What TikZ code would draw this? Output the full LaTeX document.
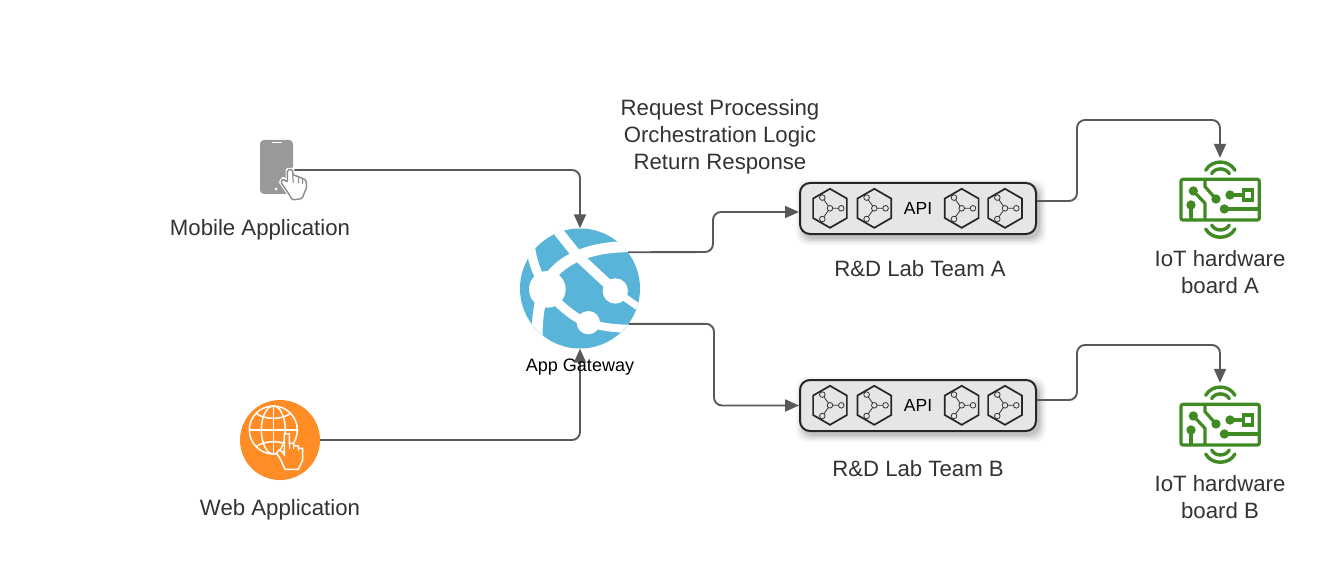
\documentclass[tikz,border=0pt]{standalone}
\usepackage{fontspec}
\setmainfont{Liberation Sans}
\usetikzlibrary{arrows.meta}
\definecolor{linegray}{HTML}{595959}
\definecolor{txt}{HTML}{333333}
\definecolor{azure}{HTML}{59B4D9}
\definecolor{orng}{HTML}{FF8C24}
\definecolor{phonegray}{HTML}{999999}
\definecolor{iotgreen}{HTML}{3F8A23}
\definecolor{boxfill}{HTML}{E6E6E6}
\tikzset{
  zoomgrid/.style={x=.3333pt,y=-.3333pt},
  conn/.style={draw=linegray,line width=1.9pt,rounded corners=8pt,-{Triangle[length=14pt,width=12pt]}},
  label/.style={text=txt,font=\fontsize{22.2}{27}\selectfont,align=center,inner sep=0pt},
  apibox/.style={draw=black!85,line width=2pt,fill=boxfill,rounded corners=10pt,minimum width=236pt,minimum height=51pt,inner sep=0pt,text=black,font=\fontsize{17.5}{20}\selectfont},
  shadowbox/.style={fill=black,rounded corners=11pt,draw=none},
  pics/hexnet/.style={code={
    \draw[line width=1.7pt,black!85] (90:19.5)--(30:19.5)--(-30:19.5)--(-90:19.5)--(-150:19.5)--(150:19.5)--cycle;
    \draw[line width=.8pt,black!80] (0,0)--(11.3,0) (0,0)--(-7.7,10.7) (0,0)--(-7.7,-10.7);
    \foreach \p in {(0,0),(11.3,0),(-7.7,10.7),(-7.7,-10.7)}
      \draw[line width=.8pt,black!80,fill=boxfill] \p circle (2.8);
  }},
  pics/iot/.style={code={\begin{scope}[zoomgrid,iotgreen]
    \draw[line width=3.2pt,rounded corners=2pt] (33,103) rectangle (268,225);
    \draw[line width=3.2pt] (105,105)--(105,125)--(138,162);
    \draw[line width=3.2pt] (70,138)--(105,175)--(105,225);
    \draw[line width=3.2pt] (63,180)--(63,225);
    \draw[line width=3.2pt] (180,150)--(220,150);
    \draw[line width=3.2pt] (220,135) rectangle (247,165);
    \draw[line width=3.2pt] (163,192)--(268,192);
    \foreach \p in {(138,162),(70,138),(63,180),(180,150),(163,192)}
      \fill \p circle (14);
    \draw[line width=3.4pt,line cap=round] (107,76) .. controls (125,43) and (177,43) .. (195,76);
    \draw[line width=3.4pt,line cap=round] (125,86) .. controls (135,67) and (167,67) .. (178,86);
    \draw[line width=3.4pt,line cap=round] (107,252) .. controls (125,285) and (177,285) .. (195,252);
    \draw[line width=3.4pt,line cap=round] (125,240) .. controls (135,260) and (167,260) .. (178,240);
  \end{scope}}}
}
\begin{document}
\begin{tikzpicture}[x=1pt,y=-1pt]
\useasboundingbox (0,0) rectangle (1330,580);
\fill[white] (0,0) rectangle (1330,580);

% shadows of the API boxes
\foreach \yy in {208.5,405.5}{
  \foreach \g/\o in {7/.035,5/.05,3/.07,1/.09}
    \fill[shadowbox,opacity=\o] (800+3-\g,\yy-25.5+4-\g) rectangle (1036+3+\g,\yy+25.5+4+\g);
}

% nodes
\node[rectangle,fill=phonegray,rounded corners=4pt,minimum width=33pt,minimum height=54pt,inner sep=0pt] (phone) at (276.5,167) {};
\node[circle,fill=orng,minimum size=80pt,inner sep=0pt] (web) at (280,440) {};
\node[circle,fill=azure,minimum size=120pt,inner sep=0pt] (gw) at (580,288.5) {};
\node[apibox] (boxa) at (918,208.5) {API};
\node[apibox] (boxb) at (918,405.5) {API};
\node[minimum width=80pt,minimum height=84pt,inner sep=0pt] (iota) at (1220,200) {};
\node[minimum width=80pt,minimum height=84pt,inner sep=0pt] (iotb) at (1220,425) {};

% connectors
\draw[conn] ([yshift=-3pt]phone.east) -- (580,170) -- (gw.north);
\draw[conn] (web.east) -- (580,440) -- (gw.south);
\draw[conn] (gw.37.47) -- (713,252) -- (713,212) -- ([yshift=-3.5pt]boxa.west);
\draw[conn] (gw.-36) -- (714,323.8) -- (714,405.5) -- (boxb.west);
\draw[conn] ([yshift=7.5pt]boxa.east) -- (1077,201) -- (1077,120) -- (1220,120) -- (iota.north);
\draw[conn] ([yshift=5.5pt]boxb.east) -- (1077,400) -- (1077,345) -- (1220,345) -- (iotb.north);

% phone details
\draw[white,line width=1.2pt] (271.5,142.5) -- (281.5,142.5);
\fill[white] (276,189) circle (1.5);
\begin{scope}[shift={(230,130)},zoomgrid]
  \draw[white,line width=3.5pt,fill=white,line join=round]
    (172,120) -- (172,158) -- (160,146) -- (152,156) -- (178,194) -- (187,210) -- (216,206) -- (230,172) -- (228,150) -- (205,140) -- (188,134) -- (188,118) -- cycle;
  \draw[phonegray!90!black,line width=1.4pt,fill=white,line join=round,rounded corners=1.5pt]
    (172,120) -- (172,158) -- (160,146) -- (152,156) -- (178,194) -- (187,210) -- (216,206) -- (230,172) -- (228,150) -- (205,140) -- (188,134) -- (188,118) -- cycle;
  \draw[phonegray!90!black,line width=1.1pt] (188,134)--(190,158) (205,140)--(206,160) (217,146)--(218,162);
\end{scope}

% web globe and hand
\begin{scope}[shift={(230,390)},zoomgrid,white,line width=1.5pt]
  \draw (130,120) circle (72);
  \draw (130,48) -- (130,192) (58,120) -- (202,120);
  \draw (130,120) ellipse (36 and 72);
  \draw (78,70) .. controls (105,90) and (155,90) .. (182,70);
  \draw (78,170) .. controls (105,150) and (155,150) .. (182,170);
  \draw[fill=orng,line join=miter,line width=1.5pt]
    (163,132) -- (178,132) -- (178,160) -- (192,160) -- (192,168) -- (205,168) -- (205,175) -- (218,175) -- (218,210) -- (205,238) -- (165,238) -- (150,205) -- (140,190) -- (147,180) -- (155,184) -- (163,194) -- cycle;
  \draw[line width=1pt] (178,160)--(178,178) (192,168)--(192,178) (205,175)--(205,182);
\end{scope}

% gateway glyph
\begin{scope}[shift={(510,220)},zoomgrid]
  \clip (210,205) circle (180);
  \draw[white,line width=11pt] (125,165) .. controls (170,110) and (250,80) .. (360,80);
  \draw[white,line width=10pt] (145,35) -- (205,110) -- (316,213);
  \draw[white,line width=7pt] (316,213) -- (395,268);
  \draw[white,line width=9pt] (62,85) .. controls (68,125) and (80,160) .. (100,190);
  \draw[white,line width=11pt] (92,240) .. controls (85,280) and (80,310) .. (82,350);
  \draw[white,line width=9pt] (120,225) .. controls (160,265) and (200,300) .. (235,308);
  \draw[white,line width=8pt] (235,308) .. controls (270,320) and (310,326) .. (360,326);
  \fill[white] (112,208) circle (55);
  \fill[white] (316,213) circle (38);
  \fill[white] (235,308) circle (35);
\end{scope}

% IoT glyphs
\pic at (1170,145) {iot};
\pic at (1170,370) {iot};

% hexagons
\foreach \yy in {208.3,405.3}
  \foreach \xx in {830,874.3,961.7,1005}
    \pic at (\xx,\yy) {hexnet};

% labels
\node[label] (lmobile) at (260,229.5) {Mobile Application};
\node[label] (lweb) at (280,509.5) {Web Application};
\node[label] (lreq) at (720,137) {Request Processing\\Orchestration Logic\\Return Response};
\node[label,text=black,font=\fontsize{18}{20}\selectfont] (lgw) at (580,367.5) {App Gateway};
\node[label] (lteama) at (920,268.5) {R\&D Lab Team A};
\node[label] (lteamb) at (918,468.5) {R\&D Lab Team B};
\node[label] (lioa) at (1220,272.5) {IoT hardware\\board A};
\node[label] (liob) at (1220,497.5) {IoT hardware\\board B};
\end{tikzpicture}
\end{document}
